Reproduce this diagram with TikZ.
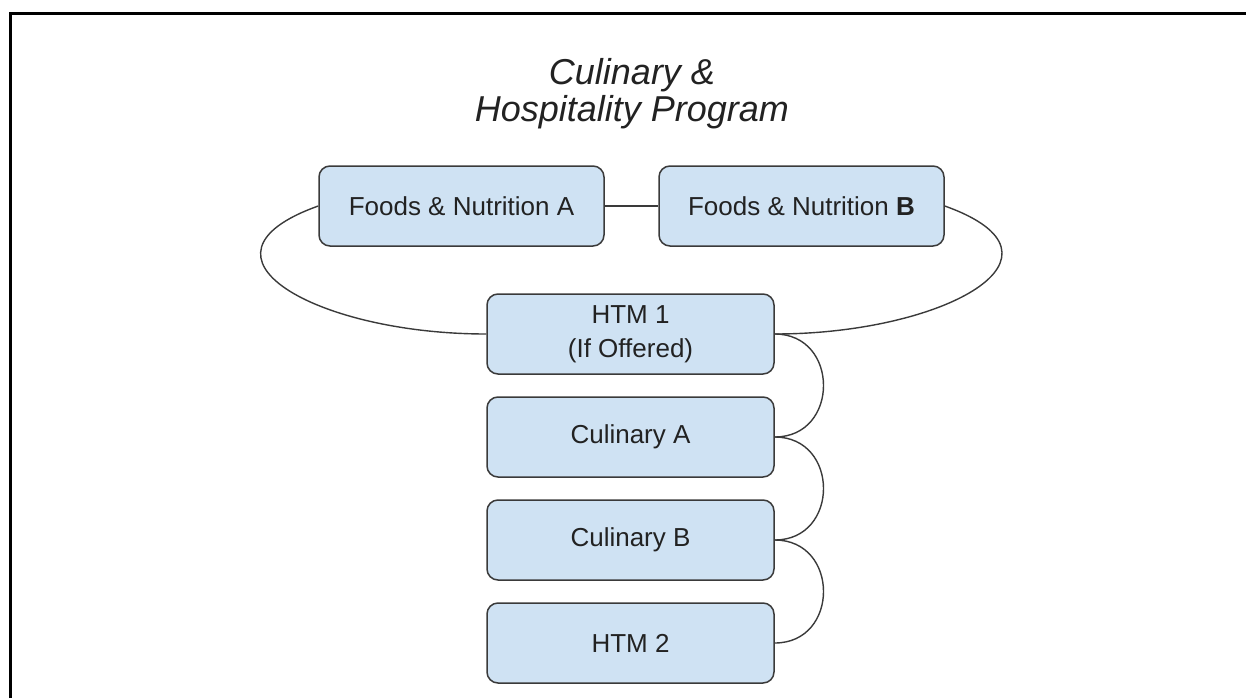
\documentclass[tikz,border=0pt]{standalone}
\usepackage{fontspec}
\setmainfont{Liberation Sans}
\usetikzlibrary{positioning}
\definecolor{boxFill}{HTML}{CFE2F3}
\definecolor{boxLine}{HTML}{3A3A3A}
\definecolor{inkGray}{HTML}{222222}

\begin{document}
\begin{tikzpicture}[
    x=1pt, y=-1pt,
    course/.style = {
        draw=boxLine,
        fill=boxFill,
        line width=1.5pt,
        rounded corners=11pt,
        minimum width=287pt,
        minimum height=80pt,
        align=center,
        text=inkGray,
        font=\fontsize{26}{34}\selectfont,
    },
    heading/.style = {
        align=center,
        inner sep=0pt,
        text=inkGray,
        font=\fontsize{36}{37}\selectfont\itshape,
    },
    link/.style = {
        draw=boxLine,
        line width=1.4pt,
    },
    node distance=21.5pt and 53.5pt,
]

\useasboundingbox (0,0) rectangle (1246,698);
\draw[line width=3pt] (10,698) -- (10,14) -- (1246,14);

\node[heading] (title) at (632,94) {Culinary \&\\Hospitality Program};

\node[course] (htmA) at (630.5,334) {HTM 1\\(If Offered)};
\node[course, below=of htmA] (culA) {Culinary A};
\node[course, below=of culA] (culB) {Culinary B};
\node[course, below=of culB] (htmB) {HTM 2};

\node[course, minimum width=285pt] (fnA) at (461.5,206) {Foods \& Nutrition A};
\node[course, minimum width=285pt, right=of fnA] (fnB) {Foods \& Nutrition \textbf{B}};

\draw[link] (fnA) -- (fnB);
\draw[link] (fnA.west) .. controls +(-140,50) and +(-170,0) .. (htmA.west);
\draw[link] (fnB.east) .. controls +(140,50) and +(170,0) .. (htmA.east);

\foreach \from/\to in {htmA/culA, culA/culB, culB/htmB}
    \draw[link] (\from.east) .. controls +(65,0) and +(65,0) .. (\to.east);

\end{tikzpicture}
\end{document}
